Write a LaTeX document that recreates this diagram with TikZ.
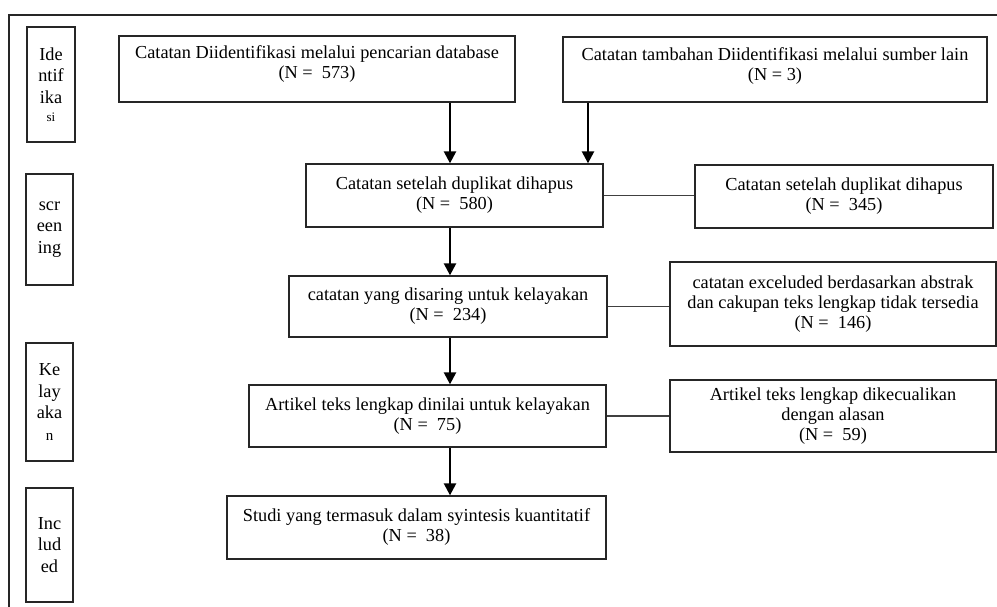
\documentclass[tikz,border=0pt]{standalone}
\usepackage{fontspec}
\setmainfont{Liberation Serif}
\usetikzlibrary{arrows.meta}

\begin{document}
\begin{tikzpicture}[x=1pt,y=-1pt,
  main node/.style={rectangle,draw=black!85,line width=1.3pt,inner sep=0pt,align=center,font=\fontsize{18.3}{20}\selectfont},
  stage node/.style={main node,font=\fontsize{18.3}{21.5}\selectfont},
  flow/.style={draw=black,line width=2.4pt,-{Triangle[width=12pt,length=12pt]}},
  link/.style={draw=black!75,line width=1.2pt}]

\useasboundingbox (0,0) rectangle (997,607);
\draw[line width=1.3pt,black!85] (997,15) -- (9,15) -- (9,607);

% stages on the left
\node[stage node,minimum width=48,minimum height=115] (ident) at (51,84.5) {Ide\\ntif\\ika\\[-3pt]{\fontsize{13}{13}\selectfont si}};
\node[stage node,minimum width=47,minimum height=111] (screen) at (49.5,229.5) {scr\\een\\ing};
\node[stage node,minimum width=47,minimum height=118] (elig) at (49.5,402) {Ke\\lay\\aka\\{\fontsize{15}{15}\selectfont n}};
\node[stage node,minimum width=47,minimum height=114] (incl) at (49.5,545) {Inc\\lud\\ed};

% flow boxes
\node[main node,minimum width=396,minimum height=66] (db) at (317,69) {Catatan Diidentifikasi melalui pencarian database\\(N = \ 573)\\[-6pt]};
\node[main node,minimum width=424,minimum height=65] (other) at (775,69.5) {Catatan tambahan Diidentifikasi melalui sumber lain\\(N = 3)\\[-9pt]};
\node[main node,minimum width=297,minimum height=63] (dedup) at (454.5,195.5) {Catatan setelah duplikat dihapus\\(N = \ 580)};
\node[main node,minimum width=298,minimum height=63] (removed) at (844,196.5) {Catatan setelah duplikat dihapus\\(N = \ 345)};
\node[main node,minimum width=318,minimum height=61] (screened) at (448,306.5) {catatan yang disaring untuk kelayakan\\(N = \ 234)};
\node[main node,minimum width=326,minimum height=84] (excluded) at (833,304) {catatan exceluded berdasarkan abstrak\\dan cakupan teks lengkap tidak tersedia\\(N = \ 146)};
\node[main node,minimum width=357,minimum height=62] (fulltext) at (427.5,416) {Artikel teks lengkap dinilai untuk kelayakan\\(N = \ 75)};
\node[main node,minimum width=326,minimum height=72] (ftexcl) at (833,416) {Artikel teks lengkap dikecualikan\\dengan alasan\\(N = \ 59)};
\node[main node,minimum width=379,minimum height=63] (studies) at (416.5,527.5) {Studi yang termasuk dalam syintesis kuantitatif\\(N = \ 38)};

\coordinate (col) at (450,0);
\coordinate (col2) at (588,0);

\draw[flow] (db.south -| col) -- (dedup.north -| col);
\draw[flow] (other.south -| col2) -- (dedup.north -| col2);
\draw[flow] (dedup.south -| col) -- (screened.north -| col);
\draw[flow] (screened.south -| col) -- (fulltext.north -| col);
\draw[flow] (fulltext.south -| col) -- (studies.north -| col);

\draw[link] (dedup.east) -- (removed.west |- dedup.east);
\draw[link] (screened.east) -- (excluded.west |- screened.east);
\draw[link] (fulltext.east) -- (ftexcl.west |- fulltext.east);
\end{tikzpicture}
\end{document}
